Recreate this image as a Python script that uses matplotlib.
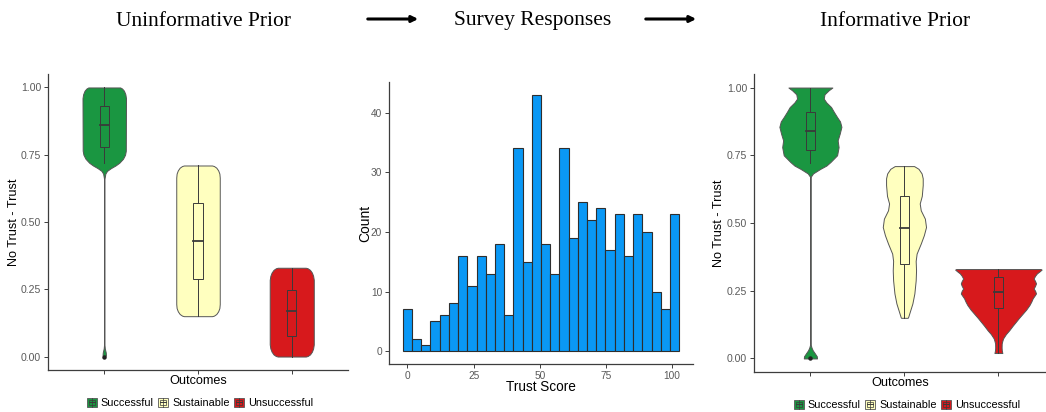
import numpy as np
import matplotlib
matplotlib.use("Agg")
import matplotlib.pyplot as plt
from matplotlib.patches import Rectangle
from matplotlib.lines import Line2D
from matplotlib.legend_handler import HandlerBase

plt.rcParams['font.family'] = ['Liberation Sans', 'DejaVu Sans']

# ---- data ----
outcomes = ["Successful", "Sustainable", "Unsuccessful"]
outcome_colors = ["#1a9641", "#ffffbf", "#d7191c"]

# survey responses histogram (30 bins)
trust_counts = [7, 2, 1, 5, 6, 8, 16, 11, 16, 13, 18, 6, 34, 15, 43,
                18, 13, 34, 19, 25, 22, 24, 17, 23, 16, 23, 20, 10, 7, 23]
trust_bin_width = 3.48
hist_xticks = [0, 25, 50, 75, 100]
hist_yticks = [0, 10, 20, 30, 40]
prob_ticks = [0.0, 0.25, 0.5, 0.75, 1.0]

# uninformative prior: violin outlines (y, half width)
uninf_succ_y = [0.0, 0.005, 0.015, 0.03, 0.045, 0.66, 0.68, 0.69, 0.70, 0.71,
                0.72, 0.735, 0.75, 0.765, 0.96, 0.975, 0.988, 0.996, 1.0]
uninf_succ_w = [0.01, 0.018, 0.016, 0.006, 0.002, 0.002, 0.012, 0.03, 0.07, 0.12,
                0.16, 0.2, 0.222, 0.23, 0.232, 0.225, 0.21, 0.19, 0.17]
uninf_sust_y = [0.15, 0.152, 0.158, 0.168, 0.18, 0.195, 0.665, 0.68, 0.692, 0.702, 0.708, 0.71]
uninf_sust_w = [0.15, 0.17, 0.195, 0.215, 0.228, 0.232, 0.232, 0.228, 0.215, 0.195, 0.17, 0.15]
uninf_uns_y = [0.0, 0.002, 0.008, 0.018, 0.03, 0.045, 0.285, 0.3, 0.312, 0.322, 0.328, 0.33]
uninf_uns_w = [0.15, 0.17, 0.195, 0.215, 0.228, 0.235, 0.235, 0.228, 0.215, 0.195, 0.17, 0.15]

# informative prior: violin outlines (y, half width)
inf_succ_y = [0.0, 0.008, 0.02, 0.03, 0.04, 0.05, 0.065, 0.67, 0.683, 0.70, 0.712,
              0.725, 0.75, 0.78, 0.805, 0.83, 0.855, 0.875, 0.891, 0.91, 0.928,
              0.945, 0.959, 0.975, 0.99, 1.0]
inf_succ_w = [0.07, 0.068, 0.045, 0.025, 0.012, 0.004, 0.002, 0.002, 0.028, 0.106, 0.17,
              0.213, 0.284, 0.30, 0.29, 0.312, 0.33, 0.315, 0.284, 0.25, 0.22,
              0.17, 0.142, 0.15, 0.195, 0.234]
inf_sust_y = [0.15, 0.153, 0.172, 0.203, 0.24, 0.288, 0.325, 0.36, 0.387, 0.424,
              0.455, 0.485, 0.516, 0.547, 0.572, 0.6, 0.64, 0.665, 0.683, 0.70, 0.71]
inf_sust_w = [0.035, 0.04, 0.057, 0.085, 0.106, 0.12, 0.124, 0.12, 0.13, 0.174,
              0.207, 0.23, 0.218, 0.174, 0.163, 0.185, 0.195, 0.195, 0.183, 0.15, 0.103]
inf_uns_y = [0.02, 0.03, 0.04, 0.055, 0.065, 0.074, 0.09, 0.104, 0.12, 0.135, 0.15,
             0.166, 0.18, 0.197, 0.21, 0.222, 0.232, 0.24, 0.25, 0.258, 0.268,
             0.277, 0.286, 0.295, 0.305, 0.314, 0.322, 0.328, 0.33]
inf_uns_w = [0.042, 0.036, 0.034, 0.035, 0.042, 0.05, 0.08, 0.115, 0.15, 0.185, 0.22,
             0.26, 0.295, 0.33, 0.35, 0.365, 0.385, 0.40, 0.39, 0.375, 0.39,
             0.40, 0.39, 0.375, 0.39, 0.41, 0.44, 0.46, 0.45]

# boxplot stats: lower whisker, q1, median, q3, upper whisker
uninf_box = [[0.72, 0.78, 0.86, 0.93, 1.0],
             [0.15, 0.288, 0.43, 0.57, 0.71],
             [0.0, 0.078, 0.171, 0.249, 0.33]]
inf_box = [[0.72, 0.769, 0.839, 0.909, 1.0],
           [0.15, 0.348, 0.48, 0.599, 0.71],
           [0.021, 0.187, 0.246, 0.299, 0.33]]
# outliers (category index, value)
uninf_outliers = [(0, 0.0)]
inf_outliers = [(0, 0.0)]

OUTLINE = "#555555"
BOXLINE = "#3a3a3a"
AXCOL = "#3d3d3d"
TICKCOL = "#5a5a5a"


class BoxKey(HandlerBase):
    """legend key that looks like ggplot's boxplot glyph"""
    def create_artists(self, legend, orig_handle, xdescent, ydescent,
                       width, height, fontsize, trans):
        fc = orig_handle.get_facecolor()
        x0, y0 = -xdescent, -ydescent
        outer = Rectangle((x0, y0), width, height, facecolor=fc,
                          edgecolor=OUTLINE, lw=0.6, transform=trans)
        inner = Rectangle((x0 + width * 0.2, y0 + height * 0.2), width * 0.6,
                          height * 0.6, fill=False, edgecolor=BOXLINE, lw=0.5,
                          transform=trans)
        mid = Line2D([x0 + width * 0.2, x0 + width * 0.8], [y0 + height / 2] * 2,
                     color=BOXLINE, lw=0.7, transform=trans)
        whisk = Line2D([x0 + width / 2] * 2, [y0, y0 + height], color=BOXLINE,
                       lw=0.5, transform=trans)
        return [outer, whisk, inner, mid]


def style_axes(ax):
    for s in ["top", "right"]:
        ax.spines[s].set_visible(False)
    for s in ["left", "bottom"]:
        ax.spines[s].set_color(AXCOL)
        ax.spines[s].set_linewidth(0.9)
    ax.tick_params(colors=AXCOL, labelcolor=TICKCOL, length=3, width=0.7,
                   labelsize=7.6, pad=2)


def violin_panel(ax, profiles, boxes, outliers, xmax):
    for i, (ys, ws) in enumerate(profiles):
        pos = i + 1
        ys = np.asarray(ys)
        ws = np.asarray(ws)
        ax.fill_betweenx(ys, pos - ws, pos + ws, facecolor=outcome_colors[i],
                         edgecolor=OUTLINE, lw=0.7, zorder=2)
        lo, q1, med, q3, hi = boxes[i]
        bw = 0.1
        ax.plot([pos, pos], [q3, hi], color=BOXLINE, lw=0.7, zorder=3)
        ax.plot([pos, pos], [lo, q1], color=BOXLINE, lw=0.7, zorder=3)
        ax.add_patch(Rectangle((pos - bw / 2, q1), bw, q3 - q1,
                               facecolor=outcome_colors[i], edgecolor=BOXLINE,
                               lw=0.7, zorder=3))
        ax.plot([pos - bw / 2, pos + bw / 2], [med, med], color=BOXLINE,
                lw=1.3, zorder=4)
    for i, v in outliers:
        ax.plot(i + 1, v, 'o', color="#222222", ms=2.2, zorder=5)
    ax.set_xlim(0.4, xmax)
    ax.set_ylim(-0.05, 1.05)
    ax.set_xticks([1, 2, 3])
    ax.set_xticklabels([])
    ax.set_yticks(prob_ticks)
    ax.set_yticklabels(["%.2f" % t for t in prob_ticks])
    style_axes(ax)
    ax.set_ylabel("No Trust - Trust", fontsize=9.1)
    ax.set_xlabel("Outcomes", fontsize=9.1)


fig = plt.figure(figsize=(10.46, 4.12), dpi=100)
W, H = 1046.0, 412.0

ax1 = fig.add_axes([48 / W, (H - 370) / H, 300 / W, 296 / H])
ax2 = fig.add_axes([389 / W, (H - 364) / H, 304 / W, 282 / H])
ax3 = fig.add_axes([754 / W, (H - 372) / H, 292 / W, 298 / H])

# left: uninformative prior
violin_panel(ax1, [(uninf_succ_y, uninf_succ_w), (uninf_sust_y, uninf_sust_w),
                   (uninf_uns_y, uninf_uns_w)], uninf_box, uninf_outliers, 3.6)
ax1.yaxis.set_label_coords(-0.092, 0.5)
ax1.xaxis.set_label_coords(0.5, -0.017)

# right: informative prior (cut at the picture edge)
violin_panel(ax3, [(inf_succ_y, inf_succ_w), (inf_sust_y, inf_sust_w),
                   (inf_uns_y, inf_uns_w)], inf_box, inf_outliers, 0.4 + 292 / 94)
ax3.yaxis.set_label_coords(-0.1, 0.5)
ax3.xaxis.set_label_coords(0.5, -0.017)

# middle: histogram of survey responses
centers = trust_bin_width * np.arange(len(trust_counts))
ax2.bar(centers, trust_counts, width=trust_bin_width, color="#0a98f5",
        edgecolor="#2e2e2e", lw=0.8, zorder=2)
left = centers[0] - trust_bin_width / 2
right = centers[-1] + trust_bin_width / 2
pad = 0.05 * (right - left)
ax2.set_xlim(left - pad, right + pad)
ymax = max(trust_counts)
ax2.set_ylim(-0.05 * ymax, 1.05 * ymax)
ax2.set_xticks(hist_xticks)
ax2.set_yticks(hist_yticks)
style_axes(ax2)
ax2.tick_params(labelsize=7.3)
ax2.set_ylabel("Count", fontsize=10)
ax2.set_xlabel("Trust Score", fontsize=9.8)
ax2.yaxis.set_label_coords(-0.056, 0.5)
ax2.xaxis.set_label_coords(0.5, -0.057)

# legends
handles = [Rectangle((0, 0), 1, 1, facecolor=c) for c in outcome_colors]
for cx, cy in [(200, 403), (907, 405)]:
    fig.legend(handles, outcomes, loc="center", bbox_to_anchor=(cx / W, 1 - cy / H),
               ncol=3, frameon=False, fontsize=7.8, handlelength=0.95,
               handleheight=0.95, handletextpad=0.35, columnspacing=0.4,
               handler_map={Rectangle: BoxKey()})

# titles and arrows across the top
serif = ["Liberation Serif", "DejaVu Serif"]
for txt, cx in [("Uninformative Prior", 203), ("Survey Responses", 533),
                ("Informative Prior", 895)]:
    fig.text(cx / W, 1 - 21 / H, txt, ha="center", va="center", fontsize=15.5,
             family=serif)
for x0, x1 in [(365, 421), (643, 699)]:
    fig.add_artist(matplotlib.patches.FancyArrowPatch(
        (x0 / W, 1 - 19 / H), (x1 / W, 1 - 19 / H), transform=fig.transFigure,
        arrowstyle="-|>", mutation_scale=9, lw=2.2, color="black"))

fig.savefig("out.png", dpi=100)
